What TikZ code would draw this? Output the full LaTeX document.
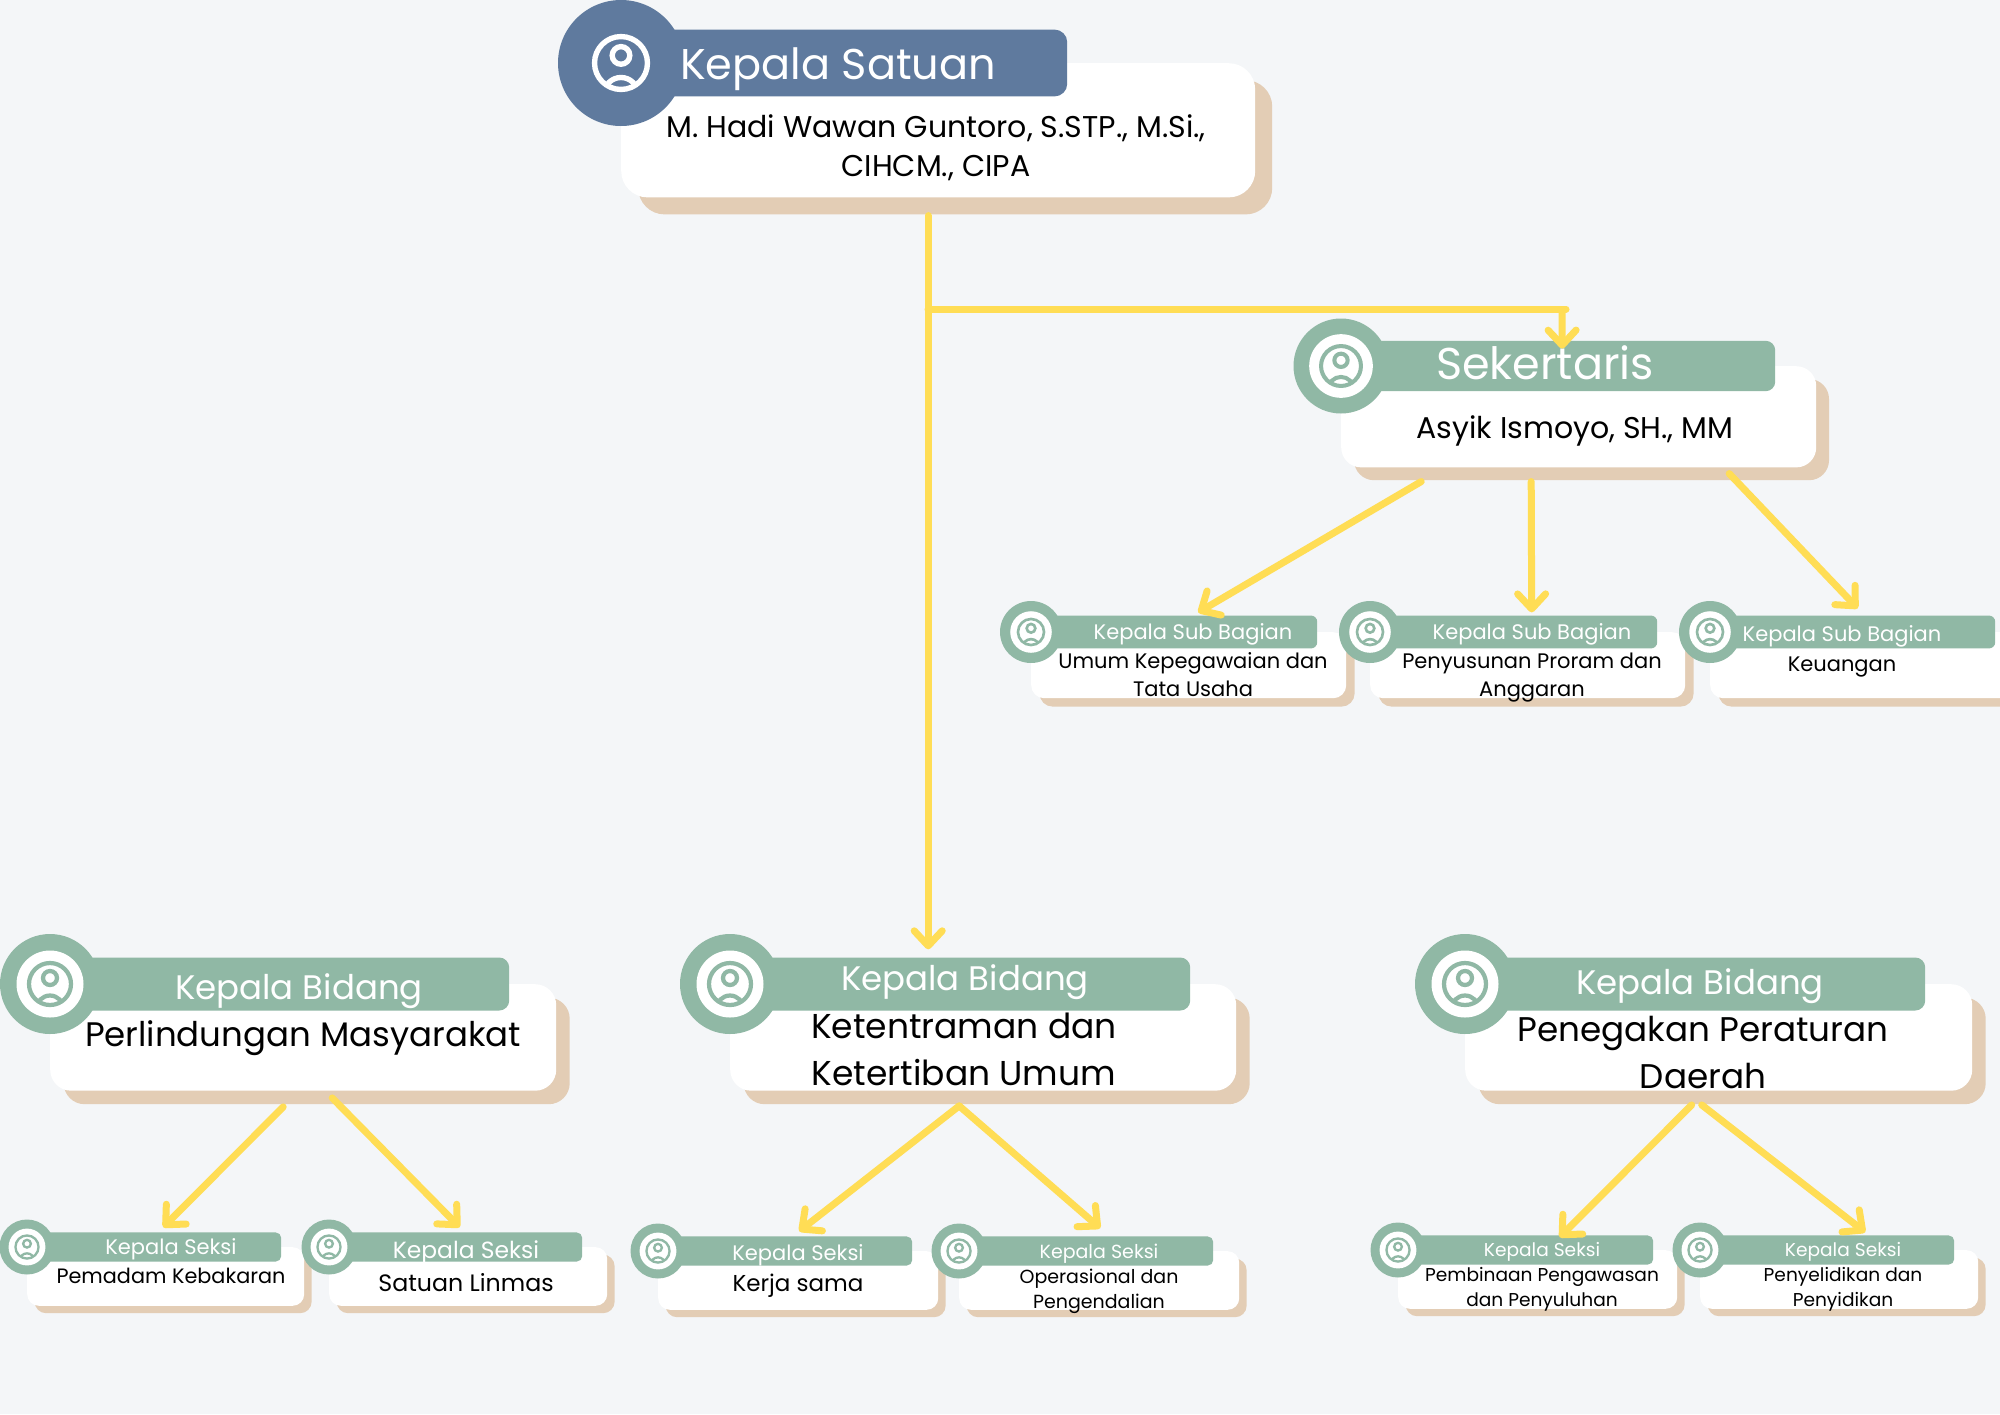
\documentclass[tikz,border=0pt]{standalone}
\usepackage{xcolor}
\usepackage{fontspec}
\setmainfont{Poppins}
\usetikzlibrary{arrows.meta}

\definecolor{bgpage}{HTML}{F4F6F8}
\definecolor{bluehead}{HTML}{5F7A9E}
\definecolor{greenhead}{HTML}{90B8A5}
\definecolor{tanshadow}{HTML}{E3CDB5}
\definecolor{yellowlink}{HTML}{FFDD55}

\tikzset{
  cardbox/.style={fill=white, inner sep=0pt, anchor=north west},
  shadowbox/.style={fill=tanshadow, inner sep=0pt, anchor=north west},
  headbar/.style={inner sep=0pt, anchor=west},
  ringdot/.style={circle, inner sep=0pt},
  headtxt/.style={text=white, inner sep=0pt, font=\fontsize{#1}{#1}\selectfont},
  nametxt/.style 2 args={text=black, inner sep=0pt, align=center, font=\fontsize{#1}{#2}\selectfont},
  plainlink/.style={draw=yellowlink, line width=7pt, line cap=round},
  link/.style={plainlink, -{Straight Barb[length=15pt, width=28pt, round]}}
}

% name, x, y, radius, header width, card width, main colour, disc colour, icon colour
\newcommand{\personcard}[9]{
  \begin{scope}[shift={(#2,#3)}]
    \pgfmathsetmacro{\cardh}{2.13*#4}
    \pgfmathsetmacro{\cardr}{0.42*#4}
    \pgfmathsetmacro{\cardoff}{0.27*#4}
    \pgfmathsetmacro{\barh}{1.06*#4}
    \pgfmathsetmacro{\barr}{0.2*#4}
    \pgfmathsetmacro{\stroke}{0.085*#4}
    \node[shadowbox, rounded corners=\cardr pt, minimum width=#6 pt, minimum height=\cardh pt] (#1-back) at (\cardoff,\cardoff) {};
    \node[cardbox, rounded corners=\cardr pt, minimum width=#6 pt, minimum height=\cardh pt] (#1) at (0,0) {};
    \node[headbar, fill=#7, rounded corners=\barr pt, minimum width=#5 pt, minimum height=\barh pt] (#1-head) at (0,0) {};
    \node[ringdot, fill=#7, minimum size=2*#4 pt] (#1-ring) at (0,0) {};
    \node[ringdot, fill=#8, minimum size=1.34*#4 pt] (#1-disc) at (0,0) {};
    % user icon
    \draw[#9, line width=\stroke pt] (0,0) circle ({0.42*#4});
    \draw[#9, line width=\stroke pt] (0,{-0.12*#4}) circle ({0.14*#4});
    \begin{scope}
      \clip (0,0) circle ({0.42*#4});
      \draw[#9, line width=\stroke pt] (0,{0.5*#4}) circle ({0.27*#4});
    \end{scope}
  \end{scope}
}

\begin{document}
\begin{tikzpicture}[x=1pt, y=-1pt]
  \useasboundingbox (0,0) rectangle (2000,1414);
  \fill[bgpage] (0,0) rectangle (2000,1414);

  % Cards
  \personcard{kasat}{621}{63}{63}{446}{634}{bluehead}{bluehead}{white}
  \personcard{sekre}{1341}{366}{47.5}{434}{475}{greenhead}{white}{greenhead}
  \personcard{subum}{1031}{632}{31}{286}{315}{greenhead}{white}{greenhead}
  \personcard{subprog}{1370}{632}{31}{287}{315}{greenhead}{white}{greenhead}
  \personcard{subkeu}{1710}{632}{31}{285}{315}{greenhead}{white}{greenhead}
  \personcard{bidlin}{50}{984}{50}{459}{506}{greenhead}{white}{greenhead}
  \personcard{bidtib}{730}{984}{50}{460}{506}{greenhead}{white}{greenhead}
  \personcard{bidgak}{1465}{984}{50}{460}{507}{greenhead}{white}{greenhead}
  \personcard{sekdam}{27}{1247}{27.5}{254}{277}{greenhead}{white}{greenhead}
  \personcard{seklin}{329}{1247}{27.5}{253}{278}{greenhead}{white}{greenhead}
  \personcard{sekkerja}{658}{1251}{27.5}{254}{280}{greenhead}{white}{greenhead}
  \personcard{sekops}{959}{1251}{27.5}{254}{280}{greenhead}{white}{greenhead}
  \personcard{sekbina}{1398}{1250}{27.5}{255}{279}{greenhead}{white}{greenhead}
  \personcard{seksidik}{1700}{1250}{27.5}{254}{278}{greenhead}{white}{greenhead}

  % Labels
  \node[headtxt=43] (kasat-title) at (838,69) {Kepala Satuan};
  \node[nametxt={30}{39}] (kasat-name) at (936,148) {M. Hadi Wawan Guntoro, S.STP., M.Si.,\\CIHCM., CIPA};
  \node[headtxt=44.5] (sekre-title) at (1545,363) {Sekertaris};
  \node[nametxt={30}{39}] (sekre-name) at (1575,430.5) {Asyik Ismoyo, SH., MM};

  \node[headtxt=21] (subum-title) at (1193,634) {Kepala Sub Bagian};
  \node[headtxt=21] (subprog-title) at (1532,634) {Kepala Sub Bagian};
  \node[headtxt=21] (subkeu-title) at (1842,636.5) {Kepala Sub Bagian};
  \node[nametxt={21}{27.5}] (subum-name) at (1193,674.5) {Umum Kepegawaian dan\\Tata Usaha};
  \node[nametxt={21}{27.5}] (subprog-name) at (1532,677.5) {Penyusunan Proram dan\\Anggaran};
  \node[nametxt={21}{27}] (subkeu-name) at (1842,667) {Keuangan};

  \node[headtxt=34] (bidlin-title) at (299,991) {Kepala Bidang};
  \node[headtxt=34] (bidtib-title) at (965,982) {Kepala Bidang};
  \node[headtxt=34] (bidgak-title) at (1700,986) {Kepala Bidang};
  \node[nametxt={34}{47}] (bidlin-name) at (303,1038) {Perlindungan Masyarakat};
  \node[nametxt={34.5}{47}] (bidtib-name) at (964,1049) {Ketentraman dan\\Ketertiban Umum};
  \node[nametxt={34.2}{47}] (bidgak-name) at (1703,1052.5) {Penegakan Peraturan\\Daerah};

  \node[headtxt=21] (sekdam-title) at (171,1249) {Kepala Seksi};
  \node[headtxt=23.4] (seklin-title) at (466,1253) {Kepala Seksi};
  \node[headtxt=21] (sekkerja-title) at (798,1255) {Kepala Seksi};
  \node[headtxt=19] (sekops-title) at (1099,1254) {Kepala Seksi};
  \node[headtxt=18.6] (sekbina-title) at (1542,1252) {Kepala Seksi};
  \node[headtxt=18.6] (seksidik-title) at (1843,1252) {Kepala Seksi};
  \node[nametxt={20.8}{25}] (sekdam-name) at (171,1275.5) {Pemadam Kebakaran};
  \node[nametxt={23.7}{25}] (seklin-name) at (466,1283) {Satuan Linmas};
  \node[nametxt={23}{25}] (sekkerja-name) at (798,1286) {Kerja sama};
  \node[nametxt={19}{25}] (sekops-name) at (1099,1291) {Operasional dan\\Pengendalian};
  \node[nametxt={18.6}{24.5}] (sekbina-name) at (1542,1289.5) {Pembinaan Pengawasan\\dan Penyuluhan};
  \node[nametxt={18.6}{24.5}] (seksidik-name) at (1843,1289.5) {Penyelidikan dan\\Penyidikan};

  % Connectors
  \coordinate (simpang) at (928,309);
  \coordinate (belok) at (1566,309);
  \draw[link] ([xshift=-10pt, yshift=-18pt]kasat.south) -- ([xshift=-32pt, yshift=8pt]bidtib-head.north);
  \draw[plainlink] (simpang) -- (belok);
  \draw[link] ([xshift=-4pt, yshift=-4pt]belok) -- ([xshift=4pt, yshift=-8pt]sekre-head.north);

  \draw[link] ([xshift=-157.5pt, yshift=-14pt]sekre.south) -- ([xshift=24pt, yshift=3pt]subum-head.north);
  \draw[link] ([xshift=-47.5pt, yshift=-14pt]sekre.south) -- ([xshift=18pt, yshift=3pt]subprog-head.north);
  \draw[link] ([xshift=150.5pt, yshift=-6pt]sekre.south) -- ([xshift=5pt, yshift=7pt]subkeu-head.north);

  \draw[link] ([xshift=-20pt, yshift=-16pt]bidlin.south) -- ([xshift=9pt, yshift=5pt]sekdam-head.north);
  \draw[link] ([xshift=29pt, yshift=-7pt]bidlin.south) -- ([xshift=4pt, yshift=5pt]seklin-head.north);
  \draw[link] ([xshift=-24pt, yshift=-15pt]bidtib.south) -- ([xshift=14pt, yshift=5pt]sekkerja-head.north);
  \draw[link] ([xshift=-24pt, yshift=-15pt]bidtib.south) -- ([xshift=14pt, yshift=8pt]sekops-head.north);
  \draw[link] ([xshift=-27pt, yshift=-14pt]bidgak.south) -- ([xshift=34pt, yshift=-2pt]sekbina-head.north);
  \draw[link] ([xshift=-17pt, yshift=-14pt]bidgak.south) -- ([xshift=38pt, yshift=3pt]seksidik-head.north);
\end{tikzpicture}
\end{document}
